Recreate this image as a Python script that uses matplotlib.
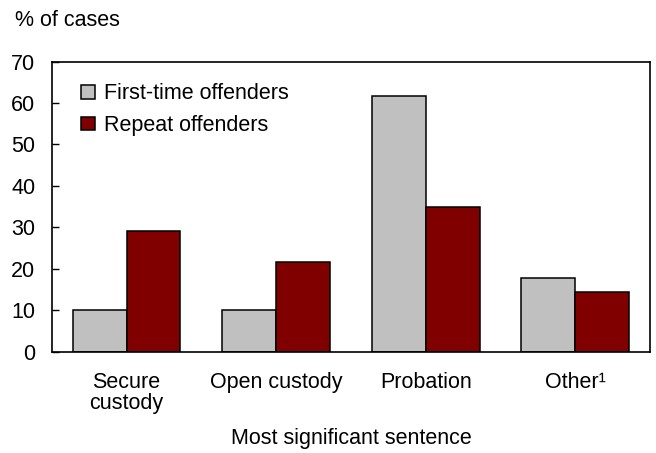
import numpy as np
import matplotlib.pyplot as plt

plt.rcParams['font.family'] = ['Liberation Sans', 'DejaVu Sans']

categories = ['Secure\ncustody', 'Open custody', 'Probation', 'Other\u00b9']
first_time = [10, 10, 61.8, 17.7]
repeat = [29.2, 21.6, 35.0, 14.3]

fs = 15.5
fig = plt.figure(figsize=(6.56, 4.53), dpi=100)
ax = fig.add_axes([0.079, 0.224, 0.912, 0.640])

x = np.arange(len(categories))
w = 0.36
ax.bar(x - w / 2, first_time, width=w, color='#C0C0C0', edgecolor='black',
       linewidth=1.1, label='First-time offenders')
ax.bar(x + w / 2, repeat, width=w, color='#800000', edgecolor='black',
       linewidth=1.1, label='Repeat offenders')

ax.set_xlim(-0.5, 3.5)
ax.set_ylim(0, 70)
ax.set_yticks(range(0, 71, 10))
ax.set_xticks(x)
ax.set_xticklabels(categories, fontsize=fs, linespacing=1.0)
ax.tick_params(axis='x', length=0, pad=15)
ax.tick_params(axis='y', direction='in', length=5, width=1, labelsize=fs, pad=12)
for s in ax.spines.values():
    s.set_linewidth(1.2)

ax.set_xlabel('Most significant sentence', fontsize=fs, labelpad=10)
fig.text(0.023, 0.955, '% of cases', fontsize=fs, va='center')

leg = ax.legend(loc='upper left', frameon=False, fontsize=fs,
                handlelength=0.65, handleheight=0.6, handletextpad=0.4,
                labelspacing=0.5, borderaxespad=0,
                bbox_to_anchor=(0.035, 0.955))

fig.savefig('out.png', dpi=100)
